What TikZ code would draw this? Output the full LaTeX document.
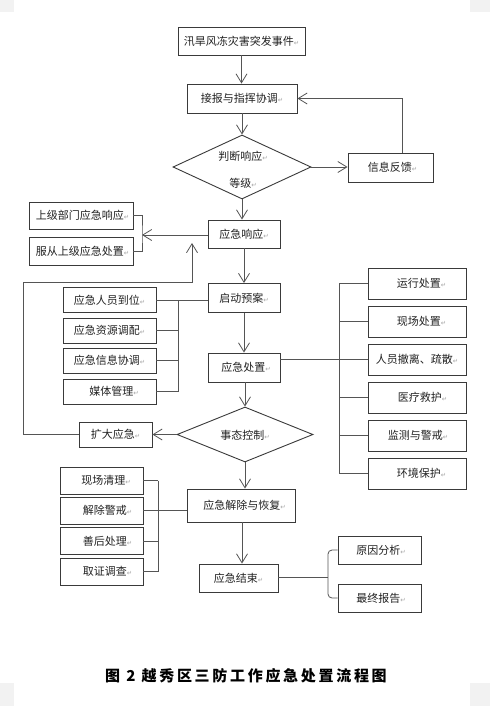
\documentclass[tikz,border=0pt]{standalone}
\usepackage{fontspec}
\usetikzlibrary{arrows.meta,shapes.geometric}
\newfontfamily\cjk{Noto Sans CJK SC}
\newfontfamily\capfont[LetterSpace=18]{Noto Sans CJK SC}
\newfontfamily\dejavu{DejaVu Sans}
\definecolor{boxc}{HTML}{3A3A3A}
\definecolor{linec}{HTML}{555555}
\definecolor{txtc}{HTML}{222222}
\newcommand{\retmark}{{\color{black!35}\dejavu\fontsize{6.5}{7}\selectfont ↵}}
\newcommand{\lpad}[1]{\hspace*{#1}}
\tikzset{
  bx/.style={draw=boxc, line width=0.9pt, inner sep=0pt, text=txtc,
    font=\cjk\fontsize{11}{12}\selectfont},
  txt/.style={inner sep=0pt, text=txtc, font=\cjk\fontsize{11}{12}\selectfont},
  dia/.style={draw=boxc, line width=0.9pt, diamond, inner sep=0pt},
  ln/.style={draw=linec, line width=0.8pt},
  arr/.style={ln, -{Straight Barb[length=9pt,width=11pt,line width=0.8pt]}},
  corner/.style={fill=black!5, draw=none},
}
\begin{document}
\begin{tikzpicture}[x=1pt,y=-1pt]
\useasboundingbox (0,0) rectangle (490,706);
\fill[white] (0,0) rectangle (490,706);
% faint scan corners
\fill[corner] (0,0) rectangle (14,12);
\fill[corner] (470,0) rectangle (490,12);
\fill[corner] (0,683) rectangle (14,706);
\fill[corner] (470,683) rectangle (490,706);

% main column
\node[bx, minimum width=127pt, minimum height=28pt] (top) at (241.5,41) {汛旱风冻灾害突发事件\retmark};
\node[bx, minimum width=110pt, minimum height=29pt] (jb) at (242,98.5) {接报与指挥协调\retmark};
\node[dia, minimum width=138pt, minimum height=64pt] (d1) at (242,167) {};
\node[txt] (d1a) at (243,156) {判断响应\retmark};
\node[txt] (d1b) at (243,183) {等级\retmark};
\node[bx, minimum width=85pt, minimum height=29pt] (xx) at (390.5,167.5) {\lpad{4pt}信息反馈\retmark};
\node[bx, minimum width=72pt, minimum height=28pt] (yjxy) at (244,234) {应急响应\retmark};
\node[bx, minimum width=104pt, minimum height=27pt] (sj1) at (81,215.5) {\lpad{3pt}上级部门应急响应\retmark};
\node[bx, minimum width=104pt, minimum height=28pt] (cf) at (81,251) {\lpad{3pt}服从上级应急处置\retmark};
\node[bx, minimum width=72pt, minimum height=29pt] (qd) at (244,298) {启动预案\retmark};

% left group 1
\node[bx, minimum width=93pt, minimum height=25pt] (a1) at (109.5,300) {应急人员到位\retmark};
\node[bx, minimum width=93pt, minimum height=25pt] (a2) at (109.5,330.5) {应急资源调配\retmark};
\node[bx, minimum width=93pt, minimum height=25pt] (a3) at (109.5,360.5) {应急信息协调\retmark};
\node[bx, minimum width=93pt, minimum height=25pt] (a4) at (109.5,391.5) {\lpad{9pt}媒体管理\retmark};

\node[bx, minimum width=72pt, minimum height=29pt] (yjcz) at (244,367.5) {\lpad{4pt}应急处置\retmark};

% right group
\node[bx, minimum width=98pt, minimum height=31pt] (r1) at (417,283.5) {\lpad{9pt}运行处置\retmark};
\node[bx, minimum width=98pt, minimum height=31pt] (r2) at (417,321.5) {\lpad{9pt}现场处置\retmark};
\node[bx, minimum width=98pt, minimum height=31pt] (r3) at (417,359.5) {人员撤离、疏散\retmark};
\node[bx, minimum width=98pt, minimum height=31pt] (r4) at (417,397.5) {\lpad{11pt}医疗救护\retmark};
\node[bx, minimum width=98pt, minimum height=31pt] (r5) at (417,435.5) {\lpad{2pt}监测与警戒\retmark};
\node[bx, minimum width=98pt, minimum height=31pt] (r6) at (417,473.5) {\lpad{9pt}环境保护\retmark};

\node[dia, minimum width=136pt, minimum height=55pt] (d2) at (245,434.5) {};
\node[txt] (d2t) at (245,435) {事态控制\retmark};
\node[bx, minimum width=73pt, minimum height=25pt] (kd) at (115.5,434.5) {扩大应急\retmark};

\node[bx, minimum width=108pt, minimum height=33pt] (yjjc) at (241,505.5) {\lpad{7pt}应急解除与恢复\retmark};
\node[bx, minimum width=83pt, minimum height=27pt] (c1) at (101.5,480.5) {\lpad{9pt}现场清理\retmark};
\node[bx, minimum width=83pt, minimum height=27pt] (c2) at (101.5,510.5) {\lpad{12pt}解除警戒\retmark};
\node[bx, minimum width=83pt, minimum height=27pt] (c3) at (101.5,541) {\lpad{12pt}善后处理\retmark};
\node[bx, minimum width=83pt, minimum height=27pt] (c4) at (101.5,571.5) {\lpad{12pt}取证调查\retmark};

\node[bx, minimum width=79pt, minimum height=28pt] (yjjs) at (238.5,578) {应急结束\retmark};
\node[bx, minimum width=83pt, minimum height=28pt] (e1) at (379.5,550) {\lpad{3pt}原因分析\retmark};
\node[bx, minimum width=83pt, minimum height=28pt] (e2) at (379.5,598) {\lpad{3pt}最终报告\retmark};

% caption
\node[inner sep=0pt, text=black, font=\capfont\bfseries\fontsize{15}{16}\selectfont] (cap) at (246,676) {图 2 越秀区三防工作应急处置流程图};

% helper coordinates
\coordinate (bk1) at (142,235);
\coordinate (b1) at (178,0);
\coordinate (b2) at (339,0);
\coordinate (b3) at (158,0);
\coordinate (b4) at (328,0);
\coordinate (lp1) at (23,282);
\coordinate (lp2) at (192,282);
\coordinate (tip) at (192,243);

% connectors
\draw[arr] (top.south) -- (top.south |- jb.north);
\draw[arr] (jb.south) -- (d1.north);
\draw[arr] (d1.east) -- (d1.east -| xx.west);
\draw[arr] ([xshift=11.5pt]xx.north) |- (jb.east);
\draw[arr] (d1.south) -- (d1.south |- yjxy.north);
\draw[arr] (yjxy.west |- bk1) -- (bk1);
\draw[ln] (sj1.east) -| (bk1) |- (cf.east);
\draw[arr] (yjxy.south) -- (yjxy.south |- qd.north);

\draw[ln] (qd.west |- a1.east) -- (a1.east);
\draw[ln] (a1.east -| b1) -- (a4.east -| b1);
\draw[ln] (a2.east) -- (a2.east -| b1);
\draw[ln] (a3.east) -- (a3.east -| b1);
\draw[ln] (a4.east) -- (a4.east -| b1);

\draw[arr] (qd.south) -- (qd.south |- yjcz.north);

\draw[ln] (yjcz.east |- r3.west) -- (r3.west);
\draw[ln] (r1.west -| b2) -- (r6.west -| b2);
\draw[ln] (r1.west -| b2) -- (r1.west);
\draw[ln] (r2.west -| b2) -- (r2.west);
\draw[ln] (r4.west -| b2) -- (r4.west);
\draw[ln] (r5.west -| b2) -- (r5.west);
\draw[ln] (r6.west -| b2) -- (r6.west);

\draw[arr] (yjcz.south -| d2.north) -- (d2.north);
\draw[arr] (d2.west) -- (kd.east);
\draw[arr] (kd.west) -| (lp1) -- (lp2) -- (tip);
\draw[arr] (d2.south) -- (d2.south |- yjjc.north);

\draw[ln] (yjjc.west |- c2.east) -- (c2.east);
\draw[ln] (c1.east -| b3) -- (c4.east -| b3);
\draw[ln] (c1.east) -- (c1.east -| b3);
\draw[ln] (c3.east) -- (c3.east -| b3);
\draw[ln] (c4.east) -- (c4.east -| b3);

\draw[arr] ([xshift=1pt]yjjc.south) -- ([xshift=1pt]yjjc.south |- yjjs.north);

\draw[ln] (yjjs.east |- 0,577) -- (b4 |- 0,577);
\draw[ln, rounded corners=4pt] (e1.west) -- (e1.west -| b4) -- (e2.west -| b4) -- (e2.west);
\end{tikzpicture}
\end{document}
